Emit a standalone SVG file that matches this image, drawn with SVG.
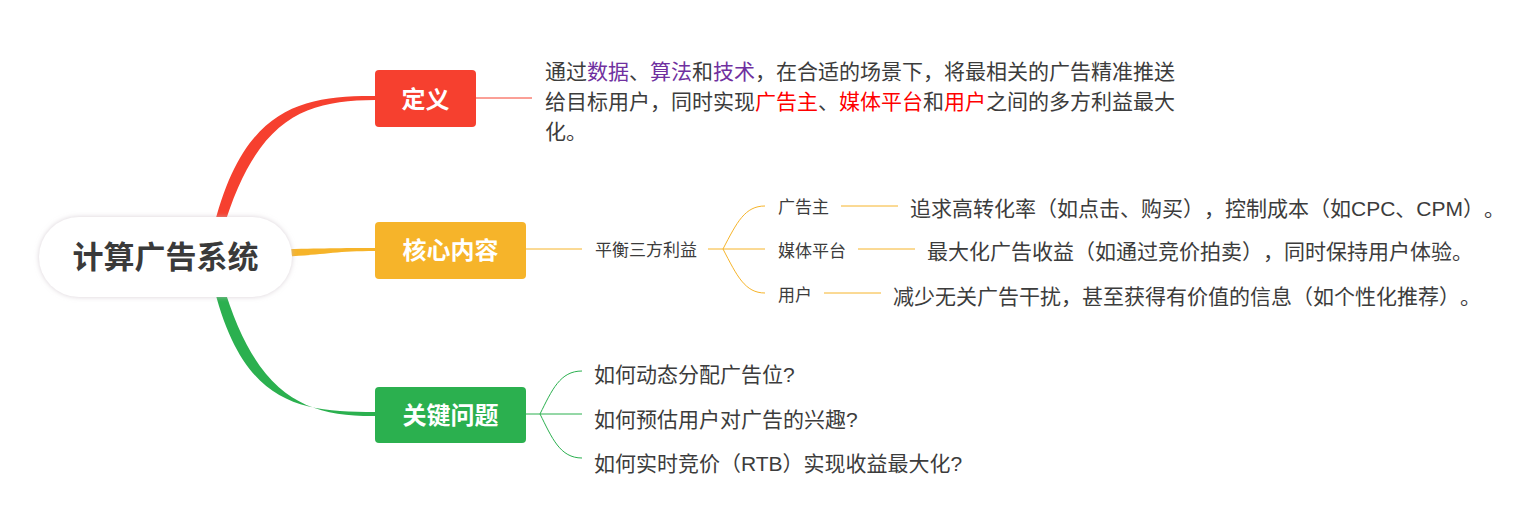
<svg xmlns="http://www.w3.org/2000/svg" width="1535" height="511" viewBox="0 0 1535 511">
  <defs>
    <filter id="shadow" x="-20%" y="-30%" width="140%" height="160%">
      <feDropShadow dx="0" dy="0" stdDeviation="2.5" flood-color="#c8bcc4" flood-opacity="0.7"/>
    </filter>
  </defs>
  <style>
    text { font-family: "Liberation Sans", "Noto Sans CJK SC", sans-serif; fill: #3c3c3c; text-spacing-trim: space-all; }
    .root { font-size: 31px; font-weight: 700; fill: #3a3a3a; }
    .branch { font-size: 24px; font-weight: 700; fill: #ffffff; }
    .leaf { font-size: 21px; }
    .small { font-size: 17px; }
    .purple { fill: #7030a0; }
    .hl { fill: #ff0000; }
    .thin { fill: none; stroke-width: 1; }
    .red { stroke: #f6402f; }
    .yel { stroke: #f6b42a; }
    .grn { stroke: #2bb04f; }
  </style>

  <g id="connectors">
    <!-- main tapered branches -->
    <path d="M212.5,232 C242,108 300,95.5 375,96 L375,100 C306,100.5 256,116 222,233 Z" fill="#f6402f"/>
    <path d="M270,249.5 C320,248.5 330,248 375,248 L375,251 C330,251 320,256 270,257 Z" fill="#f6b42a"/>
    <path d="M212.5,282 C242,406 300,412 375,412 L375,416 C306,416.5 256,398 222,281 Z" fill="#2bb04f"/>
    <!-- definition -->
    <path class="thin red" d="M476,98 H532"/>
    <!-- core content -->
    <path class="thin yel" d="M526,249 H582"/>
    <path class="thin yel" d="M708,249 H765"/>
    <path class="thin yel" d="M723,249 C737,222 745,206 765,206"/>
    <path class="thin yel" d="M723,249 C737,276 745,293 765,293"/>
    <path class="thin yel" d="M841,206 H898"/>
    <path class="thin yel" d="M858,249 H915"/>
    <path class="thin yel" d="M824,293 H881"/>
    <!-- key questions -->
    <path class="thin grn" d="M526,414 H582"/>
    <path class="thin grn" d="M540,414 C552,390 560,371 582,371"/>
    <path class="thin grn" d="M540,414 C552,438 560,458 582,458"/>
  </g>

  <g id="root">
    <rect x="39" y="217" width="253" height="80" rx="40" fill="#ffffff" filter="url(#shadow)"/>
    <text class="root" x="165.5" y="268" text-anchor="middle">计算广告系统</text>
  </g>

  <g id="n-definition">
    <rect x="375" y="70" width="101" height="57" rx="4" fill="#f6402f"/>
    <text class="branch" x="425.5" y="107.5" text-anchor="middle">定义</text>
  </g>
  <g id="n-definition-text">
    <text class="leaf" x="545" y="79">通过<tspan class="purple">数据</tspan>、<tspan class="purple">算法</tspan>和<tspan class="purple">技术</tspan>，在合适的场景下，将最相关的广告精准推送</text>
    <text class="leaf" x="545" y="109">给目标用户，同时实现<tspan class="hl">广告主</tspan>、<tspan class="hl">媒体平台</tspan>和<tspan class="hl">用户</tspan>之间的多方利益最大</text>
    <text class="leaf" x="545" y="139">化。</text>
  </g>

  <g id="n-core">
    <rect x="375" y="222" width="151" height="57" rx="4" fill="#f6b42a"/>
    <text class="branch" x="450.5" y="259" text-anchor="middle">核心内容</text>
  </g>
  <g id="n-balance">
    <text class="small" x="595" y="256">平衡三方利益</text>
  </g>
  <g id="n-advertiser">
    <text class="small" x="778" y="213">广告主</text>
  </g>
  <g id="n-advertiser-text">
    <text class="leaf" x="910" y="216">追求高转化率（如点击、购买），控制成本（如CPC、CPM）。</text>
  </g>
  <g id="n-media">
    <text class="small" x="778" y="257">媒体平台</text>
  </g>
  <g id="n-media-text">
    <text class="leaf" x="927" y="259">最大化广告收益（如通过竞价拍卖），同时保持用户体验。</text>
  </g>
  <g id="n-user">
    <text class="small" x="778" y="300.5">用户</text>
  </g>
  <g id="n-user-text">
    <text class="leaf" x="893" y="304">减少无关广告干扰，甚至获得有价值的信息（如个性化推荐）。</text>
  </g>

  <g id="n-questions">
    <rect x="375" y="387" width="151" height="56" rx="4" fill="#2bb04f"/>
    <text class="branch" x="450.5" y="424" text-anchor="middle">关键问题</text>
  </g>
  <g id="n-q1">
    <text class="leaf" x="594" y="382">如何动态分配广告位?</text>
  </g>
  <g id="n-q2">
    <text class="leaf" x="594" y="427">如何预估用户对广告的兴趣?</text>
  </g>
  <g id="n-q3">
    <text class="leaf" x="594" y="471">如何实时竞价（RTB）实现收益最大化?</text>
  </g>
</svg>
